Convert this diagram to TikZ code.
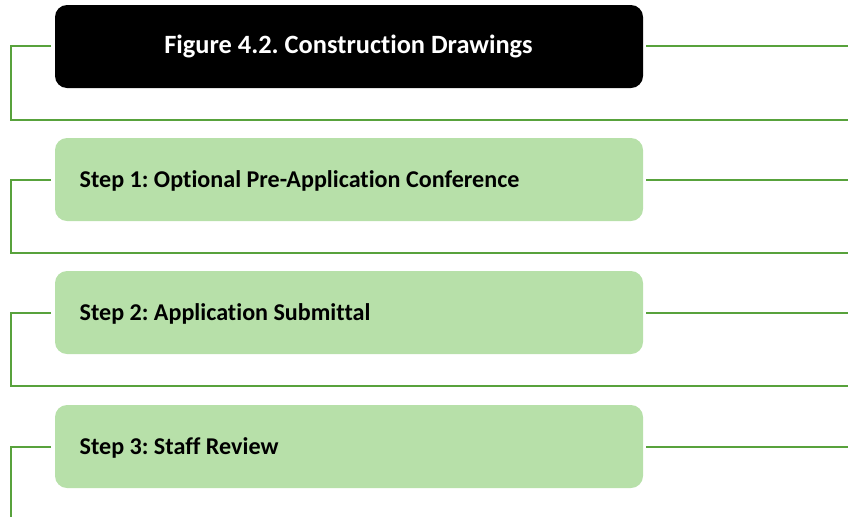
\documentclass[tikz,border=0pt]{standalone}
\usepackage{fontspec}
\setmainfont{Carlito}[Ligatures=NoCommon]
\definecolor{linegreen}{HTML}{58A23C}
\definecolor{boxgreen}{HTML}{B7E0A9}
\begin{document}
\frenchspacing
\begin{tikzpicture}[x=1pt,y=-1pt,
  conn/.style={draw=linegreen,line width=2.8pt},
  titlebox/.style={fill=black,rounded corners=12pt,minimum width=588pt,minimum height=83pt,inner sep=0pt},
  stepbox/.style={fill=boxgreen,rounded corners=12pt,minimum width=588pt,minimum height=83pt,inner sep=0pt},
  titlelabel/.style={anchor=base,inner sep=0pt,font=\bfseries\fontsize{26.4}{30}\selectfont,text=white},
  steplabel/.style={anchor=base west,inner sep=0pt,font=\bfseries\fontsize{24.1}{28}\selectfont,text=black}]
\useasboundingbox (0,0) rectangle (848,517);
\node[titlebox] (t) at (349,46.5) {};
\node[stepbox] (s1) at (349,179.5) {};
\node[stepbox] (s2) at (349,312.5) {};
\node[stepbox] (s3) at (349,446.5) {};
\node[titlelabel] (tt) at (348.5,53.5) {Figure 4.2. Construction Drawings};
\node[steplabel] (l1) at (79.5,187) {Step 1: Optional Pre-Application Conference};
\node[steplabel] (l2) at (79.5,320) {Step 2: Application Submittal};
\node[steplabel] (l3) at (79.5,454) {Step 3: Staff Review};
% free ends
\coordinate (tl) at (51,46);
\coordinate (tr) at (848,46);
\coordinate (b0l) at (11,120);
\coordinate (b0r) at (848,120);
\coordinate (s1l) at (51,180);
\coordinate (s1r) at (848,180);
\coordinate (b1l) at (11,253);
\coordinate (b1r) at (848,253);
\coordinate (s2l) at (51,313);
\coordinate (s2r) at (848,313);
\coordinate (b2l) at (11,386);
\coordinate (b2r) at (848,386);
\coordinate (s3l) at (51,447);
\coordinate (s3r) at (848,447);
\coordinate (b3) at (11,517);
\draw[conn] (tl) -| (b0l) -- (b0r);
\draw[conn] ([xshift=3pt]t.east |- tr) -- (tr);
\draw[conn] (s1l) -| (b1l) -- (b1r);
\draw[conn] ([xshift=3pt]s1.east |- s1r) -- (s1r);
\draw[conn] (s2l) -| (b2l) -- (b2r);
\draw[conn] ([xshift=3pt]s2.east |- s2r) -- (s2r);
\draw[conn] (s3l) -| (b3);
\draw[conn] ([xshift=3pt]s3.east |- s3r) -- (s3r);
\end{tikzpicture}
\end{document}
